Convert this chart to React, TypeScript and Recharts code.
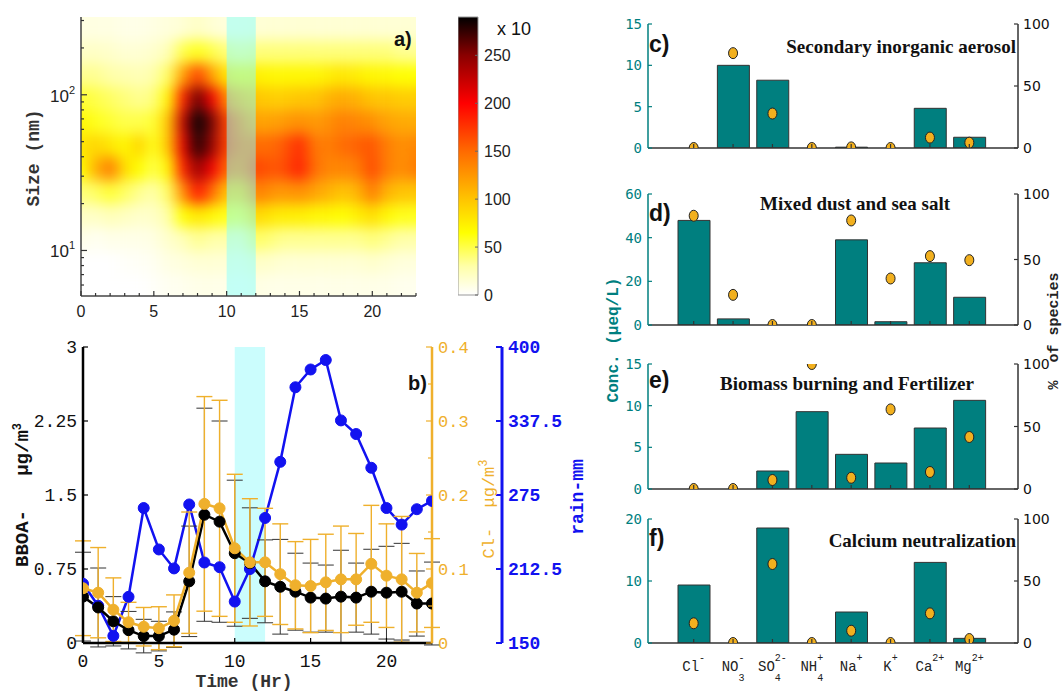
import React from 'react';
import { ComposedChart, XAxis, YAxis, ReferenceArea, Line, Bar, ErrorBar } from 'recharts';

// ---------- panel a: size distribution (x10) ----------
const hours = [0, 1, 2, 3, 4, 5, 6, 7, 8, 9, 10, 11, 12, 13, 14, 15, 16, 17, 18, 19, 20, 21, 22, 23];
const sizeBins = [6.0, 8.4, 11.9, 16.8, 23.7, 33.5, 47.3, 66.8, 94.4, 133, 188, 266];
const sizeTicks = [6, 7, 8, 9, 10, 20, 30, 40, 50, 60, 70, 80, 90, 100, 200, 300];
// one row per hour, one value per size bin (small -> large)
const psdByHour = [
  [0, 0, 8, 20, 40, 65, 80, 70, 55, 35, 20, 10],
  [0, 0, 5, 20, 45, 110, 90, 60, 50, 35, 20, 10],
  [0, 0, 8, 25, 55, 140, 80, 55, 45, 30, 18, 10],
  [0, 2, 8, 22, 45, 85, 70, 50, 40, 28, 15, 8],
  [0, 3, 8, 18, 35, 65, 90, 50, 35, 25, 15, 8],
  [2, 5, 10, 20, 30, 50, 60, 55, 40, 30, 18, 10],
  [5, 10, 18, 30, 45, 70, 100, 100, 70, 45, 25, 12],
  [6, 12, 25, 65, 130, 185, 210, 225, 185, 120, 50, 15],
  [8, 15, 35, 80, 190, 245, 280, 290, 260, 170, 60, 20],
  [8, 15, 30, 70, 150, 205, 245, 255, 205, 120, 50, 15],
  [8, 15, 30, 60, 100, 150, 170, 170, 130, 80, 40, 12],
  [6, 12, 25, 55, 95, 140, 150, 140, 110, 70, 35, 12],
  [10, 20, 45, 90, 140, 170, 150, 120, 100, 75, 40, 15],
  [8, 18, 40, 80, 130, 160, 150, 120, 95, 70, 40, 15],
  [8, 15, 35, 75, 125, 165, 160, 125, 95, 70, 40, 15],
  [8, 15, 35, 75, 130, 185, 180, 130, 100, 70, 40, 15],
  [8, 15, 35, 70, 120, 150, 145, 125, 100, 70, 40, 15],
  [8, 15, 35, 70, 110, 135, 140, 130, 110, 75, 40, 15],
  [8, 15, 35, 65, 100, 135, 150, 140, 115, 80, 40, 15],
  [8, 15, 35, 75, 110, 140, 155, 135, 110, 75, 40, 15],
  [8, 18, 40, 85, 140, 165, 160, 130, 100, 70, 40, 15],
  [8, 15, 35, 70, 110, 140, 140, 120, 100, 70, 40, 15],
  [6, 12, 30, 60, 100, 130, 130, 115, 95, 65, 35, 15],
  [6, 12, 30, 60, 100, 140, 135, 115, 95, 65, 35, 15],
];
const colorbarTicks = [0, 50, 100, 150, 200, 250];

// ---------- panel b: diurnal profiles ----------
const bboa = [0.47, 0.36, 0.22, 0.13, 0.07, 0.07, 0.135, 0.625, 1.3, 1.23, 0.91, 0.81, 0.625, 0.57, 0.52, 0.46, 0.45, 0.47, 0.46, 0.52, 0.51, 0.52, 0.4, 0.4];
const bboaSd = [0.45, 0.4, 0.25, 0.19, 0.17, 0.15, 0.18, 0.56, 1.08, 1.02, 0.74, 0.56, 0.42, 0.48, 0.39, 0.35, 0.34, 0.47, 0.35, 0.43, 0.47, 0.49, 0.33, 0.42];
const chloride = [0.074, 0.068, 0.045, 0.028, 0.022, 0.02, 0.03, 0.095, 0.188, 0.182, 0.128, 0.109, 0.109, 0.093, 0.078, 0.077, 0.082, 0.086, 0.086, 0.107, 0.091, 0.086, 0.068, 0.081];
const chlorideSd = [0.064, 0.061, 0.043, 0.027, 0.026, 0.029, 0.035, 0.082, 0.145, 0.146, 0.1, 0.086, 0.073, 0.068, 0.059, 0.063, 0.065, 0.072, 0.062, 0.079, 0.07, 0.085, 0.053, 0.06];
const rainfall = [200, 181.5, 156, 189, 264, 229, 213, 267, 218, 214, 185, 212.5, 255.6, 303, 366, 381, 389, 338, 326.5, 298, 264, 250, 263, 270];
const bboaTicks = [0, 0.75, 1.5, 2.25, 3];
const clTicks = [0, 0.05, 0.1, 0.15, 0.2, 0.25, 0.3, 0.35, 0.4];
const rainTicks = [150, 212.5, 275, 337.5, 400];

// ---------- panels c-f: factor profiles ----------
const ions = ['Cl-', 'NO3-', 'SO42-', 'NH4+', 'Na+', 'K+', 'Ca2+', 'Mg2+'];
const ionBase = ['Cl', 'NO', 'SO', 'NH', 'Na', 'K', 'Ca', 'Mg'];
const ionSup = ['-', '-', '2-', '+', '+', '+', '2+', '2+'];
const ionSub = ['', '3', '4', '4', '', '', '', ''];
const siaConc = [0, 10, 8.2, 0, 0.1, 0, 4.8, 1.3];
const siaPct = [0, 76.5, 27.8, 0, 0.5, 0, 8.4, 4.3];
const dustConc = [47.9, 2.8, 0, 0, 39, 1.5, 28.5, 12.7];
const dustPct = [83.4, 23, 0, 0, 79.8, 35.5, 52.6, 49.5];
const biomassConc = [0, 0, 2.16, 9.28, 4.16, 3.12, 7.32, 10.64];
const biomassPct = [0, 0, 7.2, 100, 9, 63.7, 13.6, 41.6];
const calciumConc = [9.35, 0, 18.55, 0, 5.0, 0, 13.0, 0.75];
const calciumPct = [15.9, 0, 63.7, 0, 9.9, 0, 23.9, 3.2];

const TEAL = '#007f7f';
const ORANGE = '#efb02c';
const BLUE = '#1212f0';
const MONO = 'Liberation Mono, monospace';
const SANS = 'Liberation Sans, Arial, sans-serif';

const heatStops: [number, string][] = [
  [0, '#ffffff'], [30, '#ffffa8'], [65, '#ffff00'], [100, '#ffc400'],
  [150, '#ff6a00'], [200, '#ff0000'], [250, '#8a0000'], [290, '#000000'],
];
const rgb = (s: string) => [1, 3, 5].map(i => parseInt(s.slice(i, i + 2), 16));
const heatColor = (v: number) => {
  for (let i = 1; i < heatStops.length; i++) {
    const [v1, c1] = heatStops[i];
    const [v0, c0] = heatStops[i - 1];
    if (v <= v1) {
      const f = (v - v0) / (v1 - v0);
      const a = rgb(c0), b = rgb(c1);
      return `rgb(${a.map((x, k) => Math.round(x + (b[k] - x) * f)).join(',')})`;
    }
  }
  return '#000';
};

const hourRows = hours.map(t => ({ t }));

// ---------- tick renderers ----------
const heatXTick = (top: boolean) => (p: any) => {
  const v = p.payload.value;
  const len = v % 5 === 0 ? 5 : 3;
  return (
    <g>
      <line x1={p.x} x2={p.x} y1={p.y} y2={top ? p.y + len : p.y - len} stroke="#333" strokeWidth={1.2} />
      {!top && v % 5 === 0 && (
        <text x={p.x} y={p.y + 21} textAnchor="middle" fontSize={16} fontFamily={SANS} fill="#222">{v}</text>
      )}
    </g>
  );
};

const logTick = (right: boolean) => (p: any) => {
  const v = p.payload.value;
  const major = v === 10 || v === 100;
  const len = major ? 6 : 3;
  return (
    <g>
      <line x1={p.x} x2={right ? p.x - len : p.x + len} y1={p.y} y2={p.y} stroke="#333" strokeWidth={1.2} />
      {!right && major && (
        <text x={p.x - 6} y={p.y + 7} textAnchor="end" fontSize={17} fontFamily={SANS} fill="#222">
          10<tspan dy={-8} fontSize={11}>{v === 10 ? 1 : 2}</tspan>
        </text>
      )}
    </g>
  );
};

const cbarTick = (p: any) => (
  <g>
    <line x1={p.x} x2={p.x - 3} y1={p.y} y2={p.y} stroke="#666" />
    <text x={p.x + 6} y={p.y + 6} fontSize={16} fontFamily={SANS} fill="#222">{p.payload.value}</text>
  </g>
);

const fmt = (v: number) => (v === 0 ? '0' : String(v));

const bTimeTick = (p: any) => (
  <g>
    <line x1={p.x} x2={p.x} y1={p.y} y2={p.y - 5} stroke="#000" strokeWidth={1.2} />
    <text x={p.x} y={p.y + 24} textAnchor="middle" fontSize={18} fontFamily={MONO} fill="#111">{p.payload.value}</text>
  </g>
);

const bboaTick = (p: any) => (
  <g>
    <line x1={p.x} x2={p.x + 5} y1={p.y} y2={p.y} stroke="#000" strokeWidth={1.2} />
    <text x={p.x - 6} y={p.y + 6} textAnchor="end" fontSize={18} fontFamily={MONO} fill="#111">{fmt(p.payload.value)}</text>
  </g>
);

const clTick = (p: any) => {
  const v = p.payload.value;
  const major = Math.abs(v * 10 - Math.round(v * 10)) < 1e-6;
  return (
    <g>
      <line x1={p.x} x2={p.x - (major ? 6 : 4)} y1={p.y} y2={p.y} stroke={ORANGE} strokeWidth={1.2} />
      {major && (
        <text x={p.x + 6} y={p.y + 6} fontSize={17} fontFamily={MONO} fill={ORANGE}>{fmt(Math.round(v * 10) / 10)}</text>
      )}
    </g>
  );
};

const rainTick = (p: any) => (
  <g>
    <line x1={p.x} x2={p.x - 6} y1={p.y} y2={p.y} stroke={BLUE} strokeWidth={2} />
    <text x={p.x + 6} y={p.y + 6} fontSize={18} fontWeight="bold" fontFamily={MONO} fill={BLUE}>{p.payload.value}</text>
  </g>
);

const concTick = (p: any) => (
  <g>
    <line x1={p.x} x2={p.x + 4} y1={p.y} y2={p.y} stroke={TEAL} strokeWidth={1.2} />
    <text x={p.x - 6} y={p.y + 5} textAnchor="end" fontSize={14} fontFamily="DejaVu Sans Mono, monospace" fill={TEAL}>{p.payload.value}</text>
  </g>
);

const pctTick = (p: any) => (
  <g>
    <line x1={p.x} x2={p.x - 4} y1={p.y} y2={p.y} stroke="#333" strokeWidth={1.2} />
    <text x={p.x + 5} y={p.y + 5} fontSize={14} fontFamily="DejaVu Sans, sans-serif" fill="#111">{p.payload.value}</text>
  </g>
);

const ionTick = (top: boolean, labels: boolean) => (p: any) => {
  const i = ions.indexOf(p.payload.value);
  const baseW = ionBase[i].length * 8.4;
  const scriptW = Math.max(ionSup[i].length, ionSub[i].length) * 6;
  const x0 = p.x - (baseW + scriptW) / 2;
  return (
    <g>
      <line x1={p.x} x2={p.x} y1={p.y} y2={top ? p.y + 4 : p.y - 4} stroke="#333" strokeWidth={1.2} />
      {labels && (
        <g fontFamily={MONO} fill="#222">
          <text x={x0} y={p.y + 28} fontSize={14}>{ionBase[i]}</text>
          <text x={x0 + baseW} y={p.y + 18} fontSize={10}>{ionSup[i]}</text>
          {ionSub[i] && <text x={x0 + baseW} y={p.y + 38} fontSize={10}>{ionSub[i]}</text>}
        </g>
      )}
    </g>
  );
};

const ionDot = (p: any) => (
  <ellipse key={`d${p.index}`} cx={p.cx} cy={p.cy} rx={4.5} ry={5.5} fill="#f2b01e" stroke="#222" strokeWidth={1} />
);

// ---------- panel a ----------
const HEAT = { left: 81, top: 17, w: 335, h: 279, pad: 30 };

const HeatLayer = () => {
  const edges = sizeBins.map((s, j) => {
    const lo = j === 0 ? 1.5 : Math.sqrt(s * sizeBins[j - 1]);
    const hi = j === sizeBins.length - 1 ? 900 : Math.sqrt(s * sizeBins[j + 1]);
    return [lo, hi];
  });
  const { pad } = HEAT;
  return (
    <div style={{ position: 'absolute', left: HEAT.left, top: HEAT.top, width: HEAT.w, height: HEAT.h, overflow: 'hidden' }}>
      <div style={{ position: 'absolute', left: -pad, top: -pad, filter: 'blur(7px)' }}>
        <ComposedChart width={HEAT.w + 2 * pad} height={HEAT.h + 2 * pad} data={hourRows}
          margin={{ top: pad, right: pad, bottom: pad, left: pad }}>
          <XAxis xAxisId="x" dataKey="t" type="number" domain={[0, 23]} hide allowDataOverflow />
          <YAxis yAxisId="y" type="number" scale="log" domain={[5.1, 316]} hide allowDataOverflow />
          {psdByHour.map((row, h) =>
            row.map((v, j) => (
              <ReferenceArea key={`${h}-${j}`} xAxisId="x" yAxisId="y"
                x1={h === 0 ? -4 : h - 0.5} x2={h === 23 ? 27 : h + 0.5}
                y1={edges[j][0]} y2={edges[j][1]}
                fill={heatColor(v)} fillOpacity={1} stroke="none" ifOverflow="visible" />
            ))
          )}
        </ComposedChart>
      </div>
    </div>
  );
};

const PanelA = () => (
  <>
    <HeatLayer />
    <div style={{ position: 'absolute', left: 0, top: 0 }}>
      <ComposedChart width={540} height={330} data={hourRows} margin={{ top: 17, right: 124, bottom: 0, left: 0 }}>
        <XAxis xAxisId="b" dataKey="t" type="number" domain={[0, 23]} ticks={hours} interval={0} height={34}
          tickSize={0} tickMargin={0} tick={heatXTick(false)} axisLine={{ stroke: '#444', strokeWidth: 1.5 }} allowDataOverflow />
        <XAxis xAxisId="t" orientation="top" dataKey="t" type="number" domain={[0, 23]} ticks={hours} interval={0} height={0}
          tickSize={0} tickMargin={0} tick={heatXTick(true)} axisLine={{ stroke: '#444', strokeWidth: 1.5 }} allowDataOverflow />
        <YAxis yAxisId="l" type="number" scale="log" domain={[5.1, 316]} ticks={sizeTicks} interval={0} width={81}
          tickSize={0} tickMargin={0} tick={logTick(false)} axisLine={{ stroke: '#444', strokeWidth: 1.5 }} allowDataOverflow />
        <YAxis yAxisId="r" orientation="right" type="number" scale="log" domain={[5.1, 316]} ticks={sizeTicks} interval={0} width={0}
          tickSize={0} tickMargin={0} tick={logTick(true)} axisLine={{ stroke: '#444', strokeWidth: 1.5 }} allowDataOverflow />
        <ReferenceArea xAxisId="b" yAxisId="l" x1={10} x2={12} y1={5.1} y2={316} fill="#88ffff" fillOpacity={0.5} stroke="none" />
      </ComposedChart>
    </div>
    <div style={{ position: 'absolute', left: 458, top: 0 }}>
      <ComposedChart width={70} height={330} data={hourRows} margin={{ top: 17, right: 0, bottom: 35, left: 0 }}>
        <defs>
          <linearGradient id="cbar" x1="0" y1="1" x2="0" y2="0">
            {heatStops.map(([v, c]) => <stop key={v} offset={v / 290} stopColor={c} />)}
          </linearGradient>
        </defs>
        <XAxis xAxisId="c" dataKey="t" type="number" domain={[0, 23]} hide allowDataOverflow />
        <YAxis yAxisId="c" orientation="right" type="number" domain={[0, 290]} ticks={colorbarTicks} interval={0} width={50}
          tickSize={0} tickMargin={0} tick={cbarTick} axisLine={false} allowDataOverflow />
        <ReferenceArea xAxisId="c" yAxisId="c" x1={0} x2={23} y1={0} y2={290} fill="url(#cbar)" fillOpacity={1} stroke="#999" strokeWidth={1} />
      </ComposedChart>
    </div>
  </>
);

// ---------- panel b ----------
const timeRows = hours.map((t, i) => ({
  t, bboa: bboa[i], bboaSd: bboaSd[i], cl: chloride[i], clSd: chlorideSd[i], rain: rainfall[i],
}));

const PanelB = () => (
  <div style={{ position: 'absolute', left: 0, top: 330 }}>
    <ComposedChart width={572} height={362} data={timeRows} margin={{ top: 17, right: 0, bottom: 0, left: 0 }}>
      <XAxis dataKey="t" type="number" domain={[0, 23]} ticks={[0, 5, 10, 15, 20]} interval={0} height={49}
        tickSize={0} tickMargin={0} tick={bTimeTick} axisLine={{ stroke: '#000', strokeWidth: 2.5 }} allowDataOverflow />
      <YAxis yAxisId="bboa" type="number" domain={[0, 3]} ticks={bboaTicks} interval={0} width={83}
        tickSize={0} tickMargin={0} tick={bboaTick} axisLine={{ stroke: '#000', strokeWidth: 2.5 }} allowDataOverflow />
      <YAxis yAxisId="cl" orientation="right" type="number" domain={[0, 0.4]} ticks={clTicks} interval={0} width={70}
        tickSize={0} tickMargin={0} tick={clTick} axisLine={{ stroke: ORANGE, strokeWidth: 2.5 }} allowDataOverflow />
      <YAxis yAxisId="rain" orientation="right" type="number" domain={[150, 400]} ticks={rainTicks} interval={0} width={70}
        tickSize={0} tickMargin={0} tick={rainTick} axisLine={{ stroke: BLUE, strokeWidth: 3 }} allowDataOverflow />
      <ReferenceArea yAxisId="bboa" x1={10} x2={12} y1={0} y2={3} fill="#cbfdfd" fillOpacity={1} stroke="none" />
      <Line yAxisId="rain" dataKey="rain" stroke={BLUE} strokeWidth={2.5}
        dot={{ r: 5.5, fill: BLUE, stroke: BLUE, strokeWidth: 1 }} activeDot={false} isAnimationActive={false} />
      <Line yAxisId="bboa" dataKey="bboa" stroke="#000" strokeWidth={2.5}
        dot={{ r: 5.5, fill: '#000', stroke: '#000', strokeWidth: 1 }} activeDot={false} isAnimationActive={false}>
        <ErrorBar dataKey="bboaSd" width={8} stroke="#333" strokeWidth={1} direction="y" isAnimationActive={false} />
      </Line>
      <Line yAxisId="cl" dataKey="cl" stroke={ORANGE} strokeWidth={2.5}
        dot={{ r: 5.5, fill: ORANGE, stroke: ORANGE, strokeWidth: 1 }} activeDot={false} isAnimationActive={false}>
        <ErrorBar dataKey="clSd" width={8} stroke={ORANGE} strokeWidth={1.4} direction="y" isAnimationActive={false} />
      </Line>
    </ComposedChart>
  </div>
);

// ---------- panels c-f ----------
type IonPanelProps = { top: number; plotH: number; conc: number[]; pct: number[]; concMax: number; concTicks: number[]; labels?: boolean };

const IonPanel = ({ top, plotH, conc, pct, concMax, concTicks, labels }: IonPanelProps) => {
  const rows = ions.map((ion, i) => ({ ion, conc: conc[i], pct: pct[i] }));
  const bottomH = labels ? 45 : 12;
  const topPad = 10;
  return (
    <div style={{ position: 'absolute', left: 600, top: top - topPad }}>
      <ComposedChart width={463} height={plotH + bottomH + topPad} data={rows} margin={{ top: topPad, right: 0, bottom: 0, left: 0 }}>
        <XAxis xAxisId="b" dataKey="ion" padding={{ left: 26, right: 29 }} interval={0} height={bottomH}
          tickSize={0} tickMargin={0} tick={ionTick(false, !!labels)} axisLine={{ stroke: '#333', strokeWidth: 1.5 }} />
        <XAxis xAxisId="t" orientation="top" dataKey="ion" padding={{ left: 26, right: 29 }} interval={0} height={0}
          tickSize={0} tickMargin={0} tick={ionTick(true, false)} axisLine={{ stroke: '#333', strokeWidth: 1.5 }} />
        <YAxis yAxisId="conc" type="number" domain={[0, concMax]} ticks={concTicks} interval={0} width={48}
          tickSize={0} tickMargin={0} tick={concTick} axisLine={{ stroke: TEAL, strokeWidth: 1.5 }} allowDataOverflow />
        <YAxis yAxisId="pct" orientation="right" type="number" domain={[0, 100]} ticks={[0, 50, 100]} interval={0} width={45}
          tickSize={0} tickMargin={0} tick={pctTick} axisLine={{ stroke: '#333', strokeWidth: 1.5 }} allowDataOverflow />
        <Bar xAxisId="b" yAxisId="conc" dataKey="conc" fill={TEAL} stroke="#333" strokeWidth={1} barSize={32} isAnimationActive={false} />
        <Line xAxisId="b" yAxisId="pct" dataKey="pct" stroke="none" dot={ionDot} activeDot={false} isAnimationActive={false} />
      </ComposedChart>
    </div>
  );
};

// ---------- text annotations ----------
const Annotations = () => (
  <svg width={1063} height={692} style={{ position: 'absolute', left: 0, top: 0, pointerEvents: 'none' }}>
    {/* panel a */}
    <text transform="translate(39,158) rotate(-90)" textAnchor="middle" fontFamily={MONO} fontWeight="bold" fontSize={18} fill="#333">Size (nm)</text>
    <text x={394} y={46} fontFamily={SANS} fontWeight="bold" fontSize={20} fill="#111">a)</text>
    <text x={497} y={35} fontFamily={SANS} fontSize={18} fill="#111">x 10</text>
    {/* panel b */}
    <text transform="translate(28,495) rotate(-90)" textAnchor="middle" fontFamily={MONO} fontWeight="bold" fontSize={19} fill="#111" xmlSpace="preserve">
      BBOA-   μg/m<tspan dy={-7} fontSize={12}>3</tspan>
    </text>
    <text transform="translate(494,509) rotate(-90)" textAnchor="middle" fontFamily={MONO} fontSize={17} fill={ORANGE} xmlSpace="preserve">
      Cl-  μg/m<tspan dy={-7} fontSize={12}>3</tspan>
    </text>
    <text transform="translate(583,497) rotate(-90)" textAnchor="middle" fontFamily={MONO} fontWeight="bold" fontSize={18} fill={BLUE}>rain-mm</text>
    <text x={244} y={687} textAnchor="middle" fontFamily={MONO} fontWeight="bold" fontSize={18} fill="#333">Time (Hr)</text>
    <text x={408} y={390} fontFamily={SANS} fontWeight="bold" fontSize={20} fill="#111">b)</text>
    {/* panels c-f */}
    <text x={649} y={52} fontFamily={SANS} fontWeight="bold" fontSize={23} fill="#111">c)</text>
    <text x={649} y={221} fontFamily={SANS} fontWeight="bold" fontSize={23} fill="#111">d)</text>
    <text x={649} y={388} fontFamily={SANS} fontWeight="bold" fontSize={23} fill="#111">e)</text>
    <text x={649} y={546} fontFamily={SANS} fontWeight="bold" fontSize={23} fill="#111">f)</text>
    <g fontFamily="Liberation Serif, Times New Roman, serif" fontWeight="bold" fontSize={19} fill="#111">
      <text x={1016} y={53} textAnchor="end">Secondary inorganic aerosol</text>
      <text x={855} y={210} textAnchor="middle">Mixed dust and sea salt</text>
      <text x={847} y={390} textAnchor="middle">Biomass burning and Fertilizer</text>
      <text x={1016} y={547} textAnchor="end">Calcium neutralization</text>
    </g>
    <text transform="translate(618,340) rotate(-90)" textAnchor="middle" fontFamily={MONO} fontWeight="bold" fontSize={16} fill={TEAL}>Conc. (μeq/L)</text>
    <text transform="translate(1058,331) rotate(-90)" textAnchor="middle" fontFamily={MONO} fontWeight="bold" fontSize={15} fill="#222" xmlSpace="preserve">%  of species</text>
  </svg>
);

export default function App() {
  return (
    <div style={{ position: 'absolute', left: 0, top: 0, width: 1063, height: 692, background: '#fff', overflow: 'hidden' }}>
      <PanelA />
      <PanelB />
      <IonPanel top={24} plotH={124} conc={siaConc} pct={siaPct} concMax={15} concTicks={[0, 5, 10, 15]} />
      <IonPanel top={194} plotH={131} conc={dustConc} pct={dustPct} concMax={60} concTicks={[0, 20, 40, 60]} />
      <IonPanel top={364} plotH={125} conc={biomassConc} pct={biomassPct} concMax={15} concTicks={[0, 5, 10, 15]} />
      <IonPanel top={519} plotH={124} conc={calciumConc} pct={calciumPct} concMax={20} concTicks={[0, 10, 20]} labels />
      <Annotations />
    </div>
  );
}
